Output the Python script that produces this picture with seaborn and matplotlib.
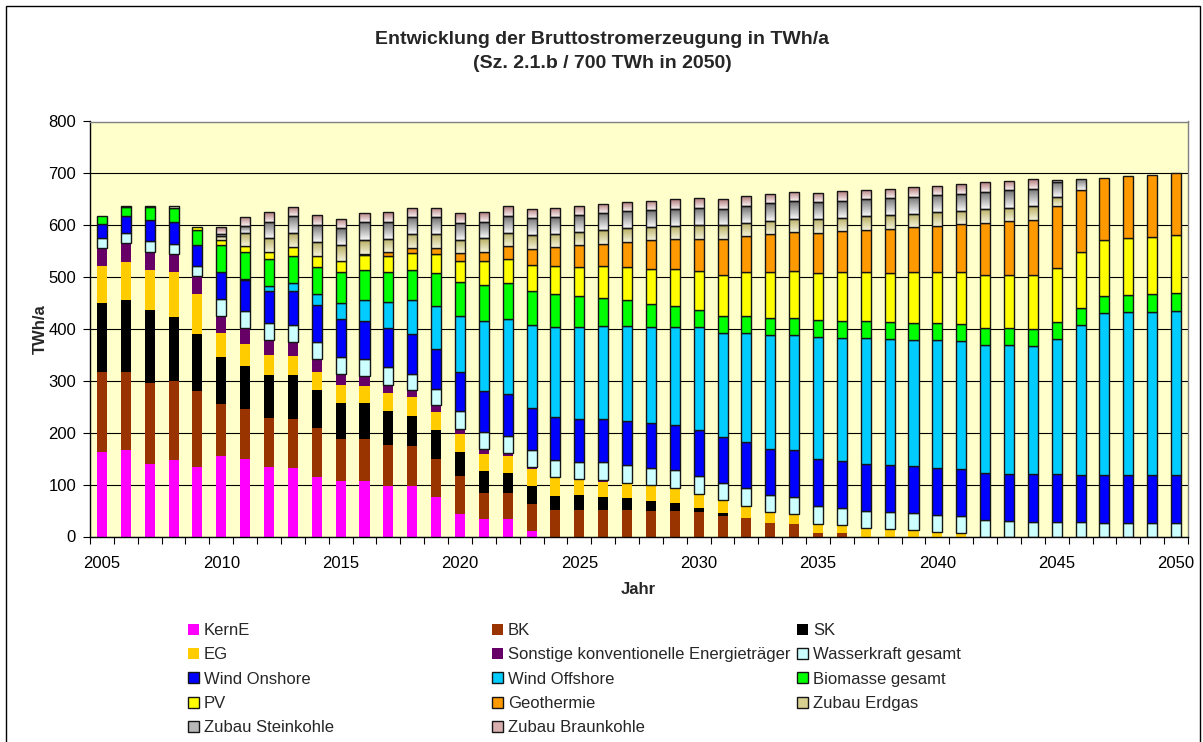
import numpy as np
import pandas as pd
import matplotlib
matplotlib.use("Agg")
import matplotlib.pyplot as plt
import seaborn as sns
from matplotlib.patches import Patch, Rectangle
from matplotlib.colors import LinearSegmentedColormap

# ---------------- data (TWh/a), 2005 .. 2050 ----------------
years = list(range(2005, 2051))

kern_e = [163, 167, 140, 147, 134, 155, 149, 134, 132, 114,
          107, 107, 98, 98, 76, 44, 33, 33, 10, 0,
          0, 0, 0, 0, 0, 0, 0, 0, 0, 0,
          0, 0, 0, 0, 0, 0, 0, 0, 0, 0,
          0, 0, 0, 0, 0, 0]
bk = [154, 150, 156, 153, 147, 100, 97, 94, 94, 95,
      80, 80, 78, 77, 73, 73, 50, 50, 53, 51,
      51, 51, 51, 49, 49, 47, 40, 35, 26, 24,
      6, 6, 0, 0, 0, 0, 0, 0, 0, 0,
      0, 0, 0, 0, 0, 0]
sk = [133, 139, 141, 123, 110, 91, 83, 83, 85, 73,
      71, 70, 66, 58, 56, 46, 44, 39, 34, 27,
      29, 25, 23, 19, 15, 8, 5, 1, 0, 0,
      0, 0, 0, 0, 0, 0, 0, 0, 0, 0,
      0, 0, 0, 0, 0, 0]
eg = [71, 73, 77, 87, 77, 46, 42, 39, 37, 35,
      35, 33, 35, 35, 35, 35, 33, 33, 33, 34,
      28, 29, 27, 30, 29, 26, 26, 23, 21, 19,
      19, 16, 17, 14, 12, 9, 6, 0, 0, 0,
      0, 0, 0, 0, 0, 0]
sonstige = [35, 36, 35, 35, 35, 33, 30, 29, 26, 25,
            20, 20, 16, 14, 13, 10, 8, 6, 4, 3,
            3, 4, 2, 1, 1, 1, 0, 0, 0, 0,
            0, 0, 0, 0, 0, 0, 0, 0, 0, 0,
            0, 0, 0, 0, 0, 0]
wasser = [19, 20, 21, 19, 19, 32, 33, 33, 34, 33,
          33, 33, 33, 32, 32, 33, 34, 33, 32, 33,
          33, 34, 35, 33, 34, 35, 32, 34, 33, 33,
          33, 33, 32, 33, 33, 33, 33, 31, 30, 28,
          28, 27, 26, 26, 26, 26]
wind_on = [28, 32, 40, 42, 39, 53, 60, 62, 66, 71,
           73, 73, 75, 76, 77, 77, 78, 80, 81, 82,
           83, 83, 85, 86, 86, 88, 88, 89, 89, 90,
           91, 91, 91, 91, 91, 91, 91, 91, 91, 92,
           92, 92, 92, 92, 92, 92]
wind_off = [0, 0, 0, 0, 0, 0, 3, 8, 14, 22,
            32, 40, 52, 65, 82, 107, 135, 145, 161, 174,
            177, 179, 183, 186, 189, 198, 201, 210, 220, 223,
            235, 237, 242, 242, 243, 246, 247, 247, 248, 247,
            261, 289, 313, 315, 315, 317]
biomasse = [14, 19, 25, 28, 30, 52, 51, 53, 53, 52,
            58, 58, 57, 58, 64, 66, 70, 69, 66, 63,
            59, 55, 49, 45, 42, 33, 33, 33, 33, 33,
            33, 33, 33, 33, 33, 33, 33, 33, 32, 33,
            33, 33, 32, 33, 35, 34]
pv = [0, 0, 0, 0, 6, 9, 12, 13, 18, 20,
      23, 28, 30, 34, 37, 41, 46, 47, 50, 54,
      57, 61, 64, 66, 71, 75, 80, 84, 88, 90,
      91, 93, 94, 95, 97, 97, 100, 102, 103, 105,
      104, 107, 108, 109, 109, 112]
geothermie = [0, 0, 0, 0, 0, 0, 0, 0, 0, 0,
              0, 3, 8, 10, 11, 14, 18, 25, 31, 37,
              41, 43, 49, 56, 57, 63, 69, 70, 73, 75,
              77, 79, 82, 85, 87, 90, 92, 101, 104, 106,
              120, 120, 120, 120, 120, 120]
zubau_eg = [0, 2, 2, 4, 0, 9, 26, 27, 26, 28,
            30, 26, 26, 27, 28, 26, 26, 26, 26, 26,
            26, 26, 26, 26, 26, 26, 26, 26, 26, 26,
            27, 26, 26, 26, 26, 26, 26, 27, 26, 26,
            16, 0, 0, 0, 0, 0]
zubau_sk = [0, 0, 0, 0, 0, 3, 12, 32, 33, 33,
            32, 35, 32, 32, 32, 33, 32, 32, 33, 32,
            32, 33, 33, 32, 32, 33, 32, 32, 33, 33,
            32, 33, 33, 33, 33, 33, 33, 33, 33, 33,
            29, 22, 0, 0, 0, 0]
zubau_bk = [0, 0, 0, 0, 0, 13, 18, 19, 17, 19,
            19, 18, 19, 18, 18, 18, 19, 19, 18, 18,
            19, 18, 17, 18, 19, 19, 19, 19, 18, 18,
            19, 19, 18, 18, 18, 18, 18, 18, 19, 19,
            5, 0, 0, 0, 0, 0]

series_labels = ["KernE", "BK", "SK", "EG",
                 "Sonstige konventionelle Energieträger", "Wasserkraft gesamt",
                 "Wind Onshore", "Wind Offshore", "Biomasse gesamt", "PV",
                 "Geothermie", "Zubau Erdgas", "Zubau Steinkohle", "Zubau Braunkohle"]
series_values = [kern_e, bk, sk, eg, sonstige, wasser, wind_on, wind_off,
                 biomasse, pv, geothermie, zubau_eg, zubau_sk, zubau_bk]

# ---------------- styles ----------------
colors = {
    "KernE": "#FF00FF", "BK": "#993300", "SK": "#000000", "EG": "#FFCC00",
    "Sonstige konventionelle Energieträger": "#660066",
    "Wasserkraft gesamt": "#CCFFFF", "Wind Onshore": "#0000FF",
    "Wind Offshore": "#00CCFF", "Biomasse gesamt": "#00FF00", "PV": "#FFFF00",
    "Geothermie": "#FF9900", "Zubau Erdgas": "#D8D090",
    "Zubau Steinkohle": "#B8B8B8", "Zubau Braunkohle": "#D8AFAF",
}
edged = {name: name not in ("KernE", "BK", "SK", "EG",
                            "Sonstige konventionelle Energieträger")
         for name in series_labels}
gradients = {
    "Zubau Erdgas": ("#F4F2D8", "#B8AE60"),
    "Zubau Steinkohle": ("#FAFAFA", "#6E6E6E"),
    "Zubau Braunkohle": ("#FBF2F2", "#B07878"),
}

sns.set_theme(style="white")
plt.rcParams['font.family'] = ['Liberation Sans', 'DejaVu Sans']

W, H = 1203, 742
fig = plt.figure(figsize=(W / 100, H / 100), dpi=100)
fig.patch.set_facecolor("white")
ax = fig.add_axes([90 / W, 1 - 536.5 / H, 1098 / W, 415 / H])
ax.set_facecolor("#FFFFCC")

bottom = np.zeros(len(years))
containers = {}
for name, vals in zip(series_labels, series_values):
    vals = np.asarray(vals, dtype=float)
    sns.barplot(x=years, y=vals, bottom=bottom.copy(), color=colors[name],
                saturation=1, width=0.42, errorbar=None,
                edgecolor="#151515" if edged[name] else "none",
                linewidth=1.0 if edged[name] else 0, ax=ax, zorder=2)
    containers[name] = ax.containers[-1]
    bottom += vals

# hide zero-height bars, add gradients for the "Zubau" series
for name, cont in containers.items():
    for bar in cont:
        h = bar.get_height()
        if h <= 0:
            bar.set_linewidth(0)
            bar.set_visible(False)
            continue
        if name in gradients:
            c0, c1 = gradients[name]
            cmap = LinearSegmentedColormap.from_list(name, [c0, c1])
            x0, w, y0 = bar.get_x(), bar.get_width(), bar.get_y()
            grad = np.linspace(0, 1, 64).reshape(-1, 1)
            im = ax.imshow(grad, extent=[x0, x0 + w, y0, y0 + h], origin="lower",
                           cmap=cmap, aspect="auto", zorder=2,
                           interpolation="bilinear")
            im.set_clip_path(bar)
            bar.set_facecolor("none")
            bar.set_zorder(2.1)

ax.set_xlim(-0.5, len(years) - 0.5)
ax.set_ylim(0, 800)
ax.set_yticks(range(0, 801, 100))
ax.yaxis.grid(True, color="black", linewidth=0.8)
ax.xaxis.grid(False)
ax.set_axisbelow(True)

ax.set_xticks(range(0, len(years), 5))
ax.set_xticklabels([str(y) for y in years[::5]])
ax.set_xticks(np.arange(-0.5, len(years), 1), minor=True)
ax.tick_params(axis="x", which="major", length=0, pad=14, labelsize=12,
               colors="black", bottom=True)
ax.tick_params(axis="x", which="minor", length=5, width=0.8, color="black",
               direction="out", bottom=True)
ax.tick_params(axis="y", which="major", length=5, width=0.8, color="black",
               direction="out", pad=5, labelsize=12, left=True, labelcolor="black")
ax.set_xlabel("")
ax.set_ylabel("")

for s in ("left", "bottom"):
    ax.spines[s].set_color("black")
    ax.spines[s].set_linewidth(1.0)
for s in ("top", "right"):
    ax.spines[s].set_color("#808080")
    ax.spines[s].set_linewidth(1.0)

# titles and axis labels
fig.text(602 / W, 1 - 40 / H, "Entwicklung der Bruttostromerzeugung in TWh/a",
         ha="center", va="center", fontsize=14, fontweight="bold")
fig.text(602 / W, 1 - 63.5 / H, "(Sz. 2.1.b / 700 TWh in 2050)",
         ha="center", va="center", fontsize=14, fontweight="bold")
fig.text(40 / W, 1 - 329 / H, "TWh/a", rotation=90, ha="center", va="center",
         fontsize=12, fontweight="bold")
fig.text(638 / W, 1 - 590 / H, "Jahr", ha="center", va="center",
         fontsize=12, fontweight="bold")

# legend in three columns
def handle(name):
    fc = colors[name]
    return Patch(facecolor=fc, edgecolor="#151515" if edged[name] else fc,
                 linewidth=1.0 if edged[name] else 0, label=name)

cols = [
    ["KernE", "EG", "Wind Onshore", "PV", "Zubau Steinkohle"],
    ["BK", "Sonstige konventionelle Energieträger", "Wind Offshore",
     "Geothermie", "Zubau Braunkohle"],
    ["SK", "Wasserkraft gesamt", "Biomasse gesamt", "Zubau Erdgas"],
]
col_x = [188, 492, 797]
for names, xpos in zip(cols, col_x):
    fig.legend(handles=[handle(n) for n in names], loc="upper left",
               bbox_to_anchor=(xpos / W, 1 - 623 / H), frameon=False,
               fontsize=12, handlelength=0.65, handleheight=0.65,
               handletextpad=0.3, labelspacing=0.56, borderpad=0,
               borderaxespad=0)

# outer chart border
fig.patches.append(Rectangle((6 / W, -0.05), (1200 - 6) / W, (1 - 6 / H) + 0.05,
                             transform=fig.transFigure, fill=False,
                             edgecolor="black", linewidth=1.0))

fig.savefig("out.png", dpi=100)
